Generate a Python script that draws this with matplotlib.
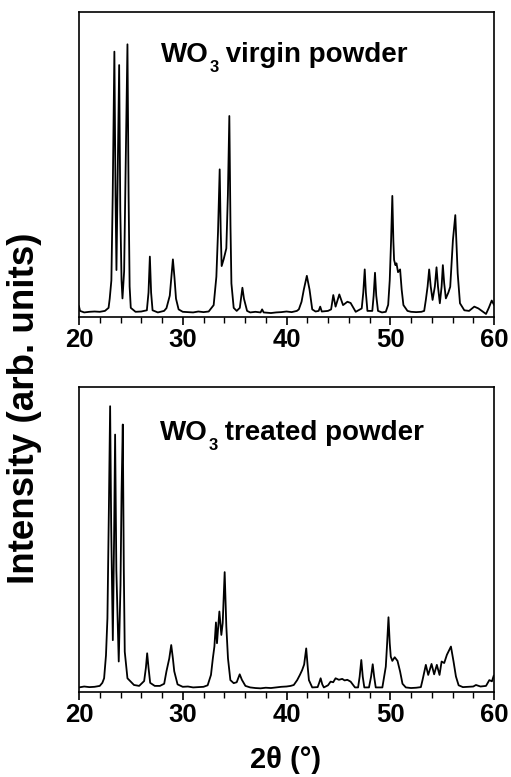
import matplotlib
matplotlib.use("Agg")
import matplotlib.pyplot as plt
from matplotlib.ticker import MultipleLocator

# ---- data ----
virgin_2theta = [20.0, 20.1, 20.5, 21.0, 21.5, 22.0, 22.5, 22.85, 22.96, 23.12, 23.25, 23.41, 23.52, 23.61,
                 23.72, 23.87, 23.98, 24.1, 24.19, 24.35, 24.5, 24.67, 24.78, 24.88, 24.99, 25.45, 26.0,
                 26.54, 26.7, 26.83, 26.95, 27.09, 27.6, 28.2, 28.43, 28.75, 28.9, 29.05, 29.2, 29.35, 29.6,
                 30.0, 30.5, 31.0, 31.5, 32.0, 32.5, 32.98, 33.24, 33.4, 33.56, 33.66, 33.75, 33.95, 34.2,
                 34.35, 34.49, 34.6, 34.69, 34.91, 35.2, 35.5, 35.65, 35.75, 35.9, 36.2, 36.5, 37.0, 37.5,
                 37.65, 37.8, 38.5, 39.0, 39.5, 40.0, 40.5, 41.0, 41.19, 41.45, 41.67, 41.96, 42.22, 42.48,
                 42.8, 43.1, 43.25, 43.4, 44.0, 44.3, 44.51, 44.73, 45.09, 45.45, 45.87, 46.18, 46.67, 47.25,
                 47.4, 47.54, 47.65, 47.8, 48.27, 48.4, 48.53, 48.65, 48.82, 49.2, 49.57, 49.8, 49.95, 50.08,
                 50.2, 50.3, 50.37, 50.5, 50.6, 50.75, 50.95, 51.1, 51.27, 51.66, 52.0, 52.5, 53.0, 53.27,
                 53.43, 53.6, 53.75, 53.9, 54.08, 54.3, 54.46, 54.6, 54.78, 54.95, 55.07, 55.2, 55.36, 55.6,
                 55.78, 56.04, 56.27, 56.5, 56.72, 57.14, 57.6, 58.1, 58.5, 58.9, 59.23, 59.5, 59.78, 60.0]
virgin_intensity = [3.5, 2.0, 1.5, 1.7, 1.8, 1.7, 2.0, 3.0, 6.0, 12.0, 40.0, 87.0, 40.0, 15.4,
                    45.0, 82.6, 35.0, 12.0, 6.1, 15.0, 50.0, 89.4, 40.0, 10.0, 3.0, 1.7, 1.8,
                    2.2, 8.0, 19.8, 8.0, 2.2, 1.5, 2.0, 2.9, 7.0, 13.0, 18.9, 13.0, 6.0, 2.5,
                    1.7, 1.6, 1.5, 1.8, 1.6, 1.8, 3.9, 13.2, 28.0, 48.4, 28.0, 16.7, 19.0, 22.5,
                    40.0, 65.9, 30.0, 11.0, 3.0, 2.0, 3.0, 7.0, 9.6, 6.0, 2.0, 1.5, 1.7, 1.5,
                    2.5, 1.5, 1.3, 1.5, 1.6, 1.8, 1.6, 2.0, 2.5, 5.0, 9.0, 13.5, 9.0, 2.5,
                    1.8, 2.0, 3.4, 1.8, 2.0, 2.5, 7.2, 3.4, 7.4, 3.9, 5.0, 4.6, 1.7, 2.8,
                    8.0, 15.6, 8.0, 2.0, 2.0, 7.0, 14.5, 7.0, 2.0, 1.5, 1.7, 4.0, 12.0, 25.0,
                    39.7, 25.0, 18.7, 17.0, 17.6, 14.7, 15.6, 9.0, 3.9, 2.0, 1.7, 1.6, 1.7, 2.0,
                    5.6, 10.0, 15.6, 10.0, 5.6, 10.0, 16.3, 10.0, 4.5, 10.0, 17.0, 11.0, 6.1, 8.0,
                    9.9, 25.2, 33.4, 14.3, 4.5, 2.2, 2.0, 3.4, 2.8, 1.8, 1.0, 3.0, 5.4, 4.0]

treated_2theta = [20.0, 20.5, 21.0, 21.5, 22.0, 22.25, 22.42, 22.6, 22.74, 22.88, 23.0, 23.1, 23.26, 23.38,
                  23.48, 23.6, 23.83, 24.0, 24.1, 24.22, 24.32, 24.41, 24.67, 25.3, 25.8, 26.28, 26.45,
                  26.57, 26.7, 26.86, 27.3, 27.8, 28.21, 28.43, 28.7, 28.89, 29.05, 29.18, 29.5, 30.0,
                  30.5, 31.0, 31.5, 32.0, 32.4, 32.72, 32.9, 33.05, 33.2, 33.3, 33.53, 33.72, 33.85, 34.04,
                  34.2, 34.36, 34.59, 34.91, 35.2, 35.49, 35.7, 36.04, 36.5, 37.0, 37.5, 38.0, 38.5, 39.0,
                  39.5, 40.0, 40.4, 40.7, 41.03, 41.29, 41.51, 41.7, 41.9, 42.05, 42.16, 42.48, 43.0, 43.15,
                  43.29, 43.45, 43.6, 44.0, 44.25, 44.5, 44.73, 45.05, 45.37, 45.6, 45.86, 46.18, 46.6,
                  46.9, 47.05, 47.21, 47.35, 47.5, 47.95, 48.15, 48.31, 48.45, 48.6, 49.24, 49.57, 49.7,
                  49.83, 49.95, 50.05, 50.2, 50.43, 50.7, 50.95, 51.18, 51.5, 52.0, 52.5, 52.95, 53.11,
                  53.43, 53.66, 53.98, 54.23, 54.49, 54.75, 54.95, 55.2, 55.46, 55.85, 56.1, 56.33, 56.59,
                  57.0, 57.5, 58.0, 58.26, 58.7, 59.23, 59.55, 59.8, 59.97]
treated_intensity = [1.5, 1.8, 1.6, 1.7, 2.0, 3.0, 4.5, 12.0, 24.2, 60.0, 93.7, 55.0, 17.0, 50.0,
                     84.4, 40.0, 10.0, 35.0, 65.0, 87.7, 40.0, 13.2, 4.5, 2.3, 2.0, 3.6, 8.0,
                     12.7, 8.0, 3.0, 2.0, 2.0, 2.7, 6.8, 11.0, 15.4, 11.0, 6.8, 2.5, 1.7,
                     1.8, 1.5, 1.6, 1.7, 2.2, 5.6, 11.0, 14.9, 22.8, 16.0, 26.4, 18.7, 22.6, 39.3,
                     21.5, 11.0, 3.9, 2.9, 3.2, 5.8, 4.0, 2.0, 1.5, 1.3, 1.2, 1.4, 1.3, 1.5,
                     1.7, 1.8, 2.0, 2.3, 3.9, 5.6, 7.2, 9.0, 14.3, 8.0, 3.9, 1.5, 1.6, 3.0,
                     4.5, 2.5, 1.5, 2.2, 3.4, 3.2, 4.5, 4.0, 4.3, 3.8, 4.0, 3.4, 1.5,
                     1.5, 5.0, 10.5, 5.0, 1.5, 1.5, 5.0, 9.1, 5.0, 1.5, 1.5, 8.3, 16.0,
                     24.5, 16.0, 11.6, 10.2, 11.4, 10.2, 6.7, 2.7, 1.5, 1.3, 1.4, 1.6, 3.9,
                     8.9, 5.6, 9.2, 5.8, 8.9, 5.6, 10.0, 9.5, 12.2, 14.9, 10.0, 5.1, 2.2,
                     1.6, 1.7, 1.8, 2.3, 1.8, 2.0, 3.9, 3.5, 5.3]

title_formula = ("WO", "3")
title_rest = [" virgin powder", " treated powder"]
x_ticks = [20, 30, 40, 50, 60]
x_label = "2\u03b8 (\u00b0)"
y_label = "Intensity (arb. units)"

# ---- figure ----
plt.rcParams['font.family'] = ['Liberation Sans', 'DejaVu Sans']

W, H = 511, 777
fig = plt.figure(figsize=(W / 100, H / 100), dpi=100)
ax_top = fig.add_axes([79/W, 1 - 317/H, 415/W, 305/H])
ax_bot = fig.add_axes([79/W, 1 - 692/H, 415/W, 305/H])

series = [(virgin_2theta, virgin_intensity), (treated_2theta, treated_intensity)]
for ax, (xs, ys) in zip([ax_top, ax_bot], series):
    ax.plot(xs, ys, color='black', lw=1.3, solid_joinstyle='round')
    ax.set_xlim(20, 60)
    ax.set_ylim(0, 100)
    ax.set_yticks([])
    ax.set_xticks(x_ticks)
    ax.xaxis.set_minor_locator(MultipleLocator(2))
    ax.tick_params(axis='x', which='major', direction='out', length=6, width=1.2,
                   labelsize=18.5, pad=2)
    ax.tick_params(axis='x', which='minor', direction='out', length=4, width=1.0)
    for lab in ax.get_xticklabels():
        lab.set_fontweight('bold')
    for sp in ax.spines.values():
        sp.set_linewidth(1.2)

# panel titles with a hand-placed subscript
fig.canvas.draw()
renderer = fig.canvas.get_renderer()
title_pos = [(161, 62), (160, 440)]  # left, baseline in pixels from top
for (px, py), rest in zip(title_pos, title_rest):
    base = H - py
    t1 = fig.text(px / W, base / H, title_formula[0], fontsize=20, fontweight='bold',
                  ha='left', va='baseline')
    x1 = t1.get_window_extent(renderer).x1
    t2 = fig.text((x1 + 1) / W, (base - 10) / H, title_formula[1], fontsize=12,
                  fontweight='bold', ha='left', va='baseline')
    x2 = t2.get_window_extent(renderer).x1
    fig.text((x2 - 1) / W, base / H, rest, fontsize=20, fontweight='bold',
             ha='left', va='baseline')

fig.text(286 / W, 1 - 760 / H, x_label, fontsize=21, fontweight='bold',
         ha='center', va='center')
fig.text(25 / W, 1 - 408 / H, y_label, rotation=90, ha='center', va='center',
         fontsize=26.5, fontweight='bold')

fig.savefig("out.png", dpi=100)
